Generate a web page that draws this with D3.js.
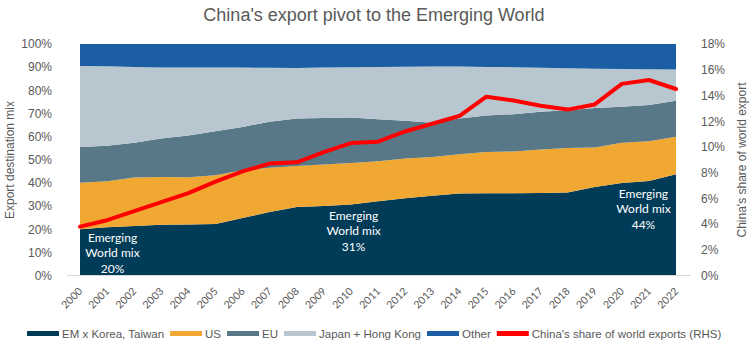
<!DOCTYPE html>
<html>
<head>
<meta charset="utf-8">
<script src="https://cdn.jsdelivr.net/npm/d3@7"></script>
<style>
  body { margin: 0; background: #fff; }
  svg { display: block; }
  text { font-family: "Liberation Sans", Arial, sans-serif; fill: #595959; }
</style>
</head>
<body>
<svg id="chart" width="752" height="345"></svg>
<script>
// export destination mix, % of China's exports
var years = d3.range(2000, 2023);
var emXKoreaTaiwan = [20.0, 20.8, 21.4, 21.9, 22.0, 22.2, 24.8, 27.4, 29.6, 30.0, 30.7, 32.1, 33.4, 34.4, 35.4, 35.5, 35.5, 35.6, 35.8, 38.2, 40.0, 40.8, 43.7];
var us = [20.1, 19.9, 20.9, 20.7, 20.4, 21.1, 20.7, 19.1, 17.7, 18.0, 17.9, 17.2, 17.1, 16.8, 17.0, 17.9, 18.1, 18.8, 19.3, 17.1, 17.3, 17.2, 16.2];
var eu = [15.4, 15.3, 15.0, 16.6, 18.1, 19.0, 18.7, 19.9, 20.5, 20.0, 19.6, 18.2, 16.3, 14.8, 15.4, 15.7, 16.1, 16.3, 16.3, 17.1, 15.6, 15.6, 15.6];
var japanHK = [35.0, 34.4, 32.8, 30.7, 29.3, 27.5, 25.6, 23.3, 21.8, 21.8, 21.8, 22.6, 23.4, 24.3, 22.5, 21.0, 20.3, 19.0, 18.1, 16.9, 16.3, 15.5, 13.5];
var other = [9.5, 9.6, 9.9, 10.1, 10.2, 10.2, 10.2, 10.3, 10.4, 10.2, 10.0, 9.9, 9.8, 9.7, 9.7, 9.9, 10.0, 10.3, 10.5, 10.7, 10.8, 10.9, 11.0];
// China's share of world exports (RHS), %
var chinaShare = [3.8, 4.3, 5.0, 5.7, 6.4, 7.3, 8.1, 8.7, 8.8, 9.6, 10.3, 10.4, 11.2, 11.8, 12.4, 13.9, 13.6, 13.2, 12.9, 13.3, 14.9, 15.2, 14.5];

var seriesNames = ["EM x Korea, Taiwan", "US", "EU", "Japan + Hong Kong", "Other"];
var seriesValues = [emXKoreaTaiwan, us, eu, japanHK, other];
var colors = ["#003b57", "#f0a833", "#587887", "#b8c7cf", "#1b5ea3"];
var lineName = "China's share of world exports (RHS)";
var lineColor = "#ff0000";

var svg = d3.select("#chart");

var x = d3.scaleLinear().domain([2000, 2022]).range([80, 676]);
var y = d3.scaleLinear().domain([0, 1]).range([275.5, 44]);
var yR = d3.scaleLinear().domain([0, 0.18]).range([275.5, 44]);

// rows for the stack
var rows = years.map(function(yr, i) {
  var r = { year: yr };
  seriesNames.forEach(function(n, k) { r[n] = seriesValues[k][i]; });
  return r;
});

var stack = d3.stack().keys(seriesNames).offset(d3.stackOffsetExpand);
var layers = stack(rows);

var area = d3.area()
  .x(function(d) { return x(d.data.year); })
  .y0(function(d) { return y(d[0]); })
  .y1(function(d) { return y(d[1]); });

svg.append("g").selectAll("path")
  .data(layers)
  .join("path")
    .attr("d", area)
    .attr("fill", function(d, i) { return colors[i]; });

// baseline
svg.append("line")
  .attr("x1", 67).attr("x2", 691)
  .attr("y1", 275.5).attr("y2", 275.5)
  .attr("stroke", "#d9d9d9").attr("stroke-width", 1);

// left axis
var yAxis = d3.axisLeft(y).tickValues(d3.range(0, 1.01, 0.1))
  .tickFormat(d3.format(".0%")).tickSize(0).tickPadding(0);
var gy = svg.append("g").attr("transform", "translate(52,0)").call(yAxis);
gy.select(".domain").remove();
gy.selectAll("text").attr("font-size", 12).attr("fill", "#595959")
  .attr("font-family", "Liberation Sans, Arial, sans-serif");

// right axis
var yRAxis = d3.axisRight(yR).tickValues(d3.range(0, 0.181, 0.02))
  .tickFormat(d3.format(".0%")).tickSize(0).tickPadding(0);
var gyr = svg.append("g").attr("transform", "translate(701,0)").call(yRAxis);
gyr.select(".domain").remove();
gyr.selectAll("text").attr("font-size", 12).attr("fill", "#595959")
  .attr("font-family", "Liberation Sans, Arial, sans-serif");

// x labels, slanted
svg.append("g").selectAll("text")
  .data(years)
  .join("text")
    .attr("transform", function(d) { return "translate(" + (x(d) + 3) + ",292) rotate(-45)"; })
    .attr("text-anchor", "end")
    .attr("font-size", 10.5)
    .style("font-family", "Lato, sans-serif")
    .text(function(d) { return d; });

// China's share line
var line = d3.line()
  .x(function(d, i) { return x(years[i]); })
  .y(function(d) { return yR(d / 100); });

svg.append("path")
  .datum(chinaShare)
  .attr("d", line)
  .attr("fill", "none")
  .attr("stroke", lineColor)
  .attr("stroke-width", 4)
  .attr("stroke-linejoin", "round")
  .attr("stroke-linecap", "round");

// Emerging World mix callouts
var callouts = [
  { year: 2000, cx: 2001.2, cy: 0.165 },
  { year: 2010, cx: 2010.1, cy: 0.26 },
  { year: 2022, cx: 2020.8, cy: 0.355 }
];
callouts.forEach(function(c) {
  var v = emXKoreaTaiwan[years.indexOf(c.year)];
  var t = svg.append("text")
    .attr("x", x(c.cx)).attr("y", y(c.cy))
    .attr("text-anchor", "middle")
    .attr("font-size", 12)
    .style("font-family", "Lato, sans-serif")
    .style("fill", "#fff");
  ["Emerging", "World mix", Math.round(v) + "%"].forEach(function(s, k) {
    t.append("tspan").attr("x", x(c.cx)).attr("dy", k === 0 ? "0.35em" : 15.8).text(s);
  });
});

// title
svg.append("text")
  .attr("x", 374).attr("y", 21)
  .attr("text-anchor", "middle")
  .attr("font-size", 18)
  .text("China's export pivot to the Emerging World");

// axis titles
svg.append("text")
  .attr("transform", "translate(14,160) rotate(-90)")
  .attr("text-anchor", "middle")
  .attr("font-size", 12)
  .text("Export destination mix");

svg.append("text")
  .attr("transform", "translate(746,160) rotate(-90)")
  .attr("text-anchor", "middle")
  .attr("font-size", 12)
  .text("China's share of world export");

// legend
var legendItems = seriesNames.map(function(n, i) { return { name: n, color: colors[i] }; })
  .concat([{ name: lineName, color: lineColor }]);
var lx = 27;
var legend = svg.append("g");
legendItems.forEach(function(it) {
  legend.append("rect")
    .attr("x", lx).attr("y", 331)
    .attr("width", 32).attr("height", 5)
    .attr("fill", it.color);
  var t = legend.append("text")
    .attr("x", lx + 35).attr("y", 337.5)
    .attr("font-size", 11.5)
    .text(it.name);
  lx += 35 + t.node().getComputedTextLength() + 6;
});
</script>
</body>
</html>
